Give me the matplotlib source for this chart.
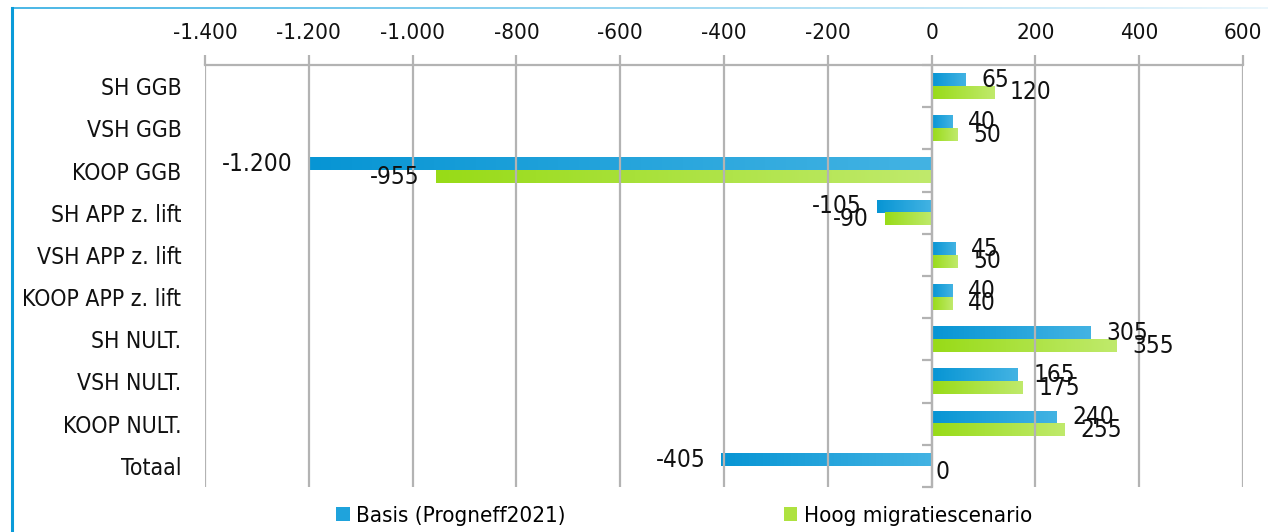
import numpy as np
import matplotlib
matplotlib.use("Agg")
import matplotlib.pyplot as plt
from matplotlib.colors import LinearSegmentedColormap
from matplotlib.patches import Patch
from matplotlib.ticker import FuncFormatter, FixedLocator

plt.rcParams['font.family'] = ['DejaVu Sans']
plt.rcParams['font.stretch'] = 'condensed'

# woningtypes en saldo per scenario
categories = ['SH GGB', 'VSH GGB', 'KOOP GGB', 'SH APP z. lift', 'VSH APP z. lift',
              'KOOP APP z. lift', 'SH NULT.', 'VSH NULT.', 'KOOP NULT.', 'Totaal']
basis = [65, 40, -1200, -105, 45, 40, 305, 165, 240, -405]
hoog = [120, 50, -955, -90, 50, 40, 355, 175, 255, 0]
series_names = ['Basis (Progneff2021)', 'Hoog migratiescenario']

blue_cmap = LinearSegmentedColormap.from_list('blauw', ['#0795d4', '#43b3e3'])
green_cmap = LinearSegmentedColormap.from_list('groen', ['#98db17', '#c0ea6c'])
grad = np.linspace(0, 1, 256).reshape(1, -1)


def fmt(v):
    return f"{int(v):,}".replace(',', '.')


fig = plt.figure(figsize=(12.68, 5.32), dpi=100)
ax = fig.add_axes([205 / 1268, 1 - 487 / 532, 1038 / 1268, 422 / 532])

# balken met kleurverloop van links naar rechts
bar_h = 0.3
for series, cmap, off in [(basis, blue_cmap, -0.15), (hoog, green_cmap, 0.15)]:
    for i, v in enumerate(series):
        y = i + off
        if v != 0:
            ax.imshow(grad, cmap=cmap, aspect='auto', zorder=1,
                      extent=(min(0, v), max(0, v), y + bar_h / 2, y - bar_h / 2))
        dx = 3 if v == 0 else (11.5 if v > 0 else -11.5)
        ax.annotate(fmt(v), (v, y), xytext=(dx, 0), textcoords='offset points',
                    ha='left' if v >= 0 else 'right', va='center', fontsize=17.5,
                    color='#111111', zorder=4)

ax.set_xlim(-1400, 600)
ax.set_ylim(len(categories) - 0.5, -0.5)
ax.set_xticks(np.arange(-1400, 601, 200))
ax.xaxis.set_major_formatter(FuncFormatter(lambda v, p: fmt(v)))
ax.xaxis.tick_top()
ax.tick_params(axis='x', length=7, width=1.6, color='#b3b3b3', labelsize=16, pad=9,
               labelcolor='#111111')
ax.set_yticks(range(len(categories)))
ax.set_yticklabels(categories)
ax.tick_params(axis='y', length=0, labelsize=16.5, pad=17, labelcolor='#111111')
ax.grid(axis='x', color='#b3b3b3', lw=1.6)
ax.set_axisbelow(False)
for s in ['left', 'right', 'bottom']:
    ax.spines[s].set_visible(False)
ax.spines['top'].set_color('#b3b3b3')
ax.spines['top'].set_linewidth(1.6)

# verticale as bij nul met streepjes tussen de categorieen
sec = ax.secondary_yaxis(1400 / 2000)
sec.set_alignment('left')
sec.yaxis.set_major_locator(FixedLocator(np.arange(-0.5, len(categories), 1.0)))
sec.set_yticklabels([])
sec.tick_params(axis='y', length=7, width=1.6, color='#b3b3b3')
sec.spines['left'].set_color('#b3b3b3')
sec.spines['left'].set_linewidth(1.6)

handles = [Patch(facecolor='#1fa3dc', edgecolor='none'),
           Patch(facecolor='#aee240', edgecolor='none')]
fig.legend(handles, series_names, loc='center', bbox_to_anchor=(684 / 1268, 1 - 516 / 532),
           ncol=2, frameon=False, fontsize=16, handlelength=0.6, handleheight=0.6,
           handletextpad=0.3, columnspacing=9.8)

# kader links en boven
fig.add_artist(plt.Line2D([12 / 1268, 12 / 1268], [0, 1 - 8 / 532], color='#0a9bd9',
                          lw=2.2, transform=fig.transFigure))
top = fig.add_axes([12 / 1268, 1 - 9.5 / 532, 1 - 12 / 1268, 3 / 532])
top.imshow(grad, cmap=LinearSegmentedColormap.from_list('rand', ['#4db8e6', '#eaf6fc']),
           aspect='auto')
top.axis('off')

fig.savefig('out.png', dpi=100)
